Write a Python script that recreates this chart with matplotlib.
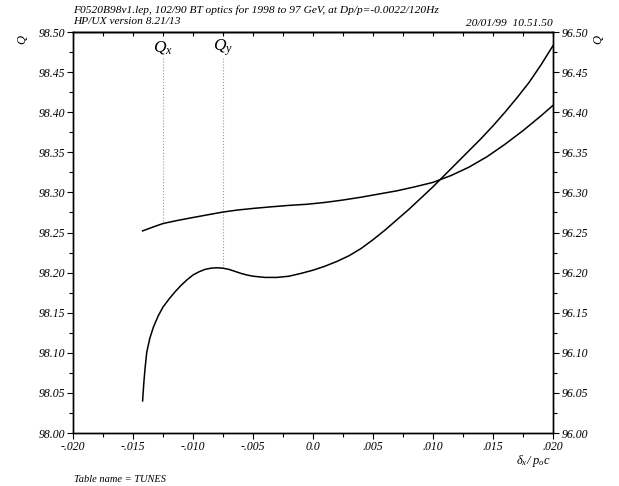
#!/usr/bin/env python3
import matplotlib
matplotlib.use("Agg")
import matplotlib.pyplot as plt
from matplotlib.ticker import MultipleLocator
import numpy as np

# Qx (upper, flat curve)
qx_dp = [-0.0142, -0.0133, -0.0125, -0.0113, -0.0100, -0.0088, -0.0075, -0.0063,
         -0.0050, -0.0035, -0.0020, -0.0005, 0.0010, 0.0025, 0.0040, 0.0055,
         0.0070, 0.0085, 0.0100, 0.0115, 0.0130, 0.0145, 0.0160, 0.0175,
         0.0190, 0.0200]
qx_q = [98.2520, 98.2570, 98.2612, 98.2650, 98.2687, 98.2720, 98.2755, 98.2780,
        98.2800, 98.2820, 98.2838, 98.2852, 98.2875, 98.2905, 98.2940, 98.2980,
        98.3020, 98.3070, 98.3125, 98.3210, 98.3315, 98.3445, 98.3600, 98.3770,
        98.3955, 98.4085]

# Qy (curve with the bump)
qy_dp = [-0.01420, -0.01410, -0.01400, -0.01385, -0.01360, -0.01330, -0.01290,
         -0.01250, -0.01200, -0.01150, -0.01100, -0.01050, -0.01000, -0.00950,
         -0.00900, -0.00850, -0.00800, -0.00750, -0.00700, -0.00650, -0.00600,
         -0.00550, -0.00500, -0.00400, -0.00300, -0.00200, -0.00100, 0.00000,
         0.00100, 0.00200, 0.00300, 0.00400, 0.00500, 0.00600, 0.00700, 0.00800,
         0.00900, 0.01000, 0.01100, 0.01200, 0.01300, 0.01400, 0.01500, 0.01600,
         0.01700, 0.01800, 0.01900, 0.02000]
qy_q = [98.040, 98.062, 98.080, 98.101, 98.118, 98.132, 98.146,
        98.157, 98.167, 98.176, 98.184, 98.191, 98.197, 98.201,
        98.204, 98.2055, 98.206, 98.2055, 98.204, 98.2015, 98.199,
        98.197, 98.1955, 98.194, 98.194, 98.1955, 98.199, 98.203,
        98.208, 98.214, 98.221, 98.230, 98.241, 98.253, 98.266, 98.279,
        98.293, 98.307, 98.322, 98.337, 98.352, 98.367, 98.383, 98.400,
        98.418, 98.437, 98.459, 98.483]

x_ticks = [-0.020, -0.015, -0.010, -0.005, 0.0, 0.005, 0.010, 0.015, 0.020]
x_labels = ["-.020", "-.015", "-.010", "-.005", "0.0", ".005", ".010", ".015", ".020"]
left_ticks = [98.00, 98.05, 98.10, 98.15, 98.20, 98.25, 98.30, 98.35, 98.40, 98.45, 98.50]
right_ticks = [96.00, 96.05, 96.10, 96.15, 96.20, 96.25, 96.30, 96.35, 96.40, 96.45, 96.50]

# label markers
qx_mark = -0.0125
qy_mark = -0.0075
mark_top = 98.468
mark_label_y = 98.481

header1 = "F0520B98v1.lep, 102/90 BT optics for 1998 to 97 GeV, at Dp/p=-0.0022/120Hz"
header2 = "HP/UX version 8.21/13"
stamp = "20/01/99  10.51.50"
table_name = "Table name = TUNES"

plt.rcParams.update({
    "font.family": "Liberation Serif",
    "font.style": "italic",
    "mathtext.fontset": "custom",
    "mathtext.rm": "Liberation Serif",
    "mathtext.it": "Liberation Serif:italic",
    "mathtext.bf": "Liberation Serif:bold",
    "axes.linewidth": 1.0,
})

W, H = 619, 486
fig = plt.figure(figsize=(W / 100, H / 100), dpi=100, facecolor="white")
ax = fig.add_axes([73 / W, 1 - 433 / H, 480 / W, 401 / H])

ax.plot(qx_dp, qx_q, color="black", lw=1.1, zorder=3)
ax.plot(qy_dp, qy_q, color="black", lw=1.1, zorder=3)

# dotted marker lines down to the curves
qx_end = np.interp(qx_mark, qx_dp, qx_q)
qy_end = np.interp(qy_mark, qy_dp, qy_q)
ax.plot([qx_mark, qx_mark], [mark_top, qx_end], color="#999999", lw=0.8, ls=":", zorder=2)
ax.plot([qy_mark, qy_mark], [mark_top, qy_end], color="#999999", lw=0.8, ls=":", zorder=2)
ax.text(qx_mark, mark_label_y, r"$Q_{x}$", ha="center", va="center", fontsize=12.5)
ax.text(qy_mark, mark_label_y, r"$Q_{y}$", ha="center", va="center", fontsize=12.5)

ax.set_xlim(-0.020, 0.020)
ax.set_ylim(98.0, 98.5)
ax.set_xticks(x_ticks)
ax.set_xticklabels(x_labels)
ax.set_yticks(left_ticks)
ax.set_yticklabels([f"{v:.2f}" for v in left_ticks])
ax.xaxis.set_minor_locator(MultipleLocator(0.0025))
ax.yaxis.set_minor_locator(MultipleLocator(0.025))
ax.tick_params(axis="both", which="both", direction="out", width=0.8,
               labelsize=8.5, top=False, right=False)
ax.tick_params(axis="both", which="major", length=4, pad=2)
ax.tick_params(axis="both", which="minor", length=3)

top = ax.secondary_xaxis("top")
top.set_xticks(x_ticks)
top.xaxis.set_minor_locator(MultipleLocator(0.0025))
top.tick_params(which="both", direction="in", length=3, width=0.8, labeltop=False)

ax2 = ax.twinx()
ax2.set_ylim(96.0, 96.5)
ax2.set_yticks(right_ticks)
ax2.set_yticklabels([f"{v:.2f}" for v in right_ticks])
ax2.yaxis.set_minor_locator(MultipleLocator(0.025))
ax2.tick_params(axis="y", which="both", direction="out", width=0.8, labelsize=8.5)
ax2.tick_params(axis="y", which="major", length=4, pad=2)
ax2.tick_params(axis="y", which="minor", length=3)

for t in ax.get_xticklabels() + ax.get_yticklabels() + ax2.get_yticklabels():
    t.set_fontstyle("italic")

fig.text(73 / W, 1 - 10.5 / H, header1, ha="left", va="center", fontsize=8.2)
fig.text(73 / W, 1 - 21.5 / H, header2, ha="left", va="center", fontsize=8.2)
fig.text(553 / W, 1 - 24 / H, stamp, ha="right", va="center", fontsize=8.2)
fig.text(22 / W, 1 - 40 / H, "Q", ha="center", va="center", rotation=90, fontsize=9)
fig.text(598 / W, 1 - 40 / H, "Q", ha="center", va="center", rotation=90, fontsize=9)
fig.text(533 / W, 1 - 461 / H, r"$\mathrm{\delta}_{x}/\ p_{o}c$", ha="center",
         va="center", fontsize=9)
fig.text(74 / W, 1 - 479 / H, table_name, ha="left", va="center", fontsize=7.5)

fig.savefig("out.png", dpi=100, facecolor="white")
plt.close(fig)
